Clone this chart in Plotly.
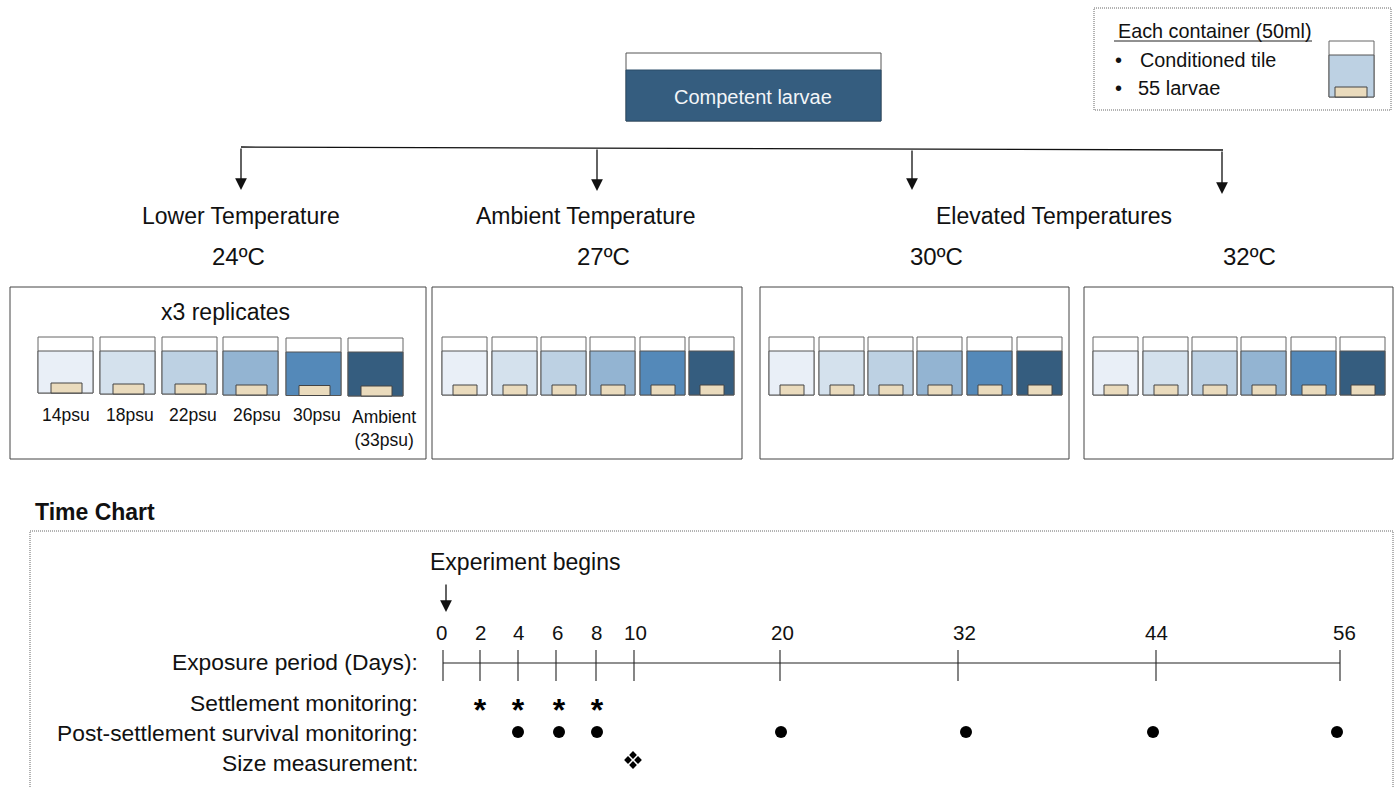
import plotly.graph_objects as go

FONT = "Liberation Sans"
INK = "#111111"

# ---- text and categories ----
salinity_labels = ["14psu", "18psu", "22psu", "26psu", "30psu", "Ambient<br>(33psu)"]
salinity_label_x = [66, 130, 193, 257, 317, 384]
water_colours = ["#E9EFF7", "#D4E1ED", "#BDD1E3", "#93B4D2", "#5489B9", "#355D7F"]
tile_colour = "#EADBBD"

# ---- containers: left edges per panel ----
panel_boxes = [(10, 287, 426, 459), (432, 287, 742, 459), (760, 287, 1069, 459), (1084, 287, 1393, 459)]
first_panel_lefts = [38, 100, 162, 223, 286, 348]
first_panel_tops = [337, 337, 337, 337, 338, 338]
first_panel_bottoms = [393, 394, 394, 395, 395.5, 396]
panel2_lefts = [442, 492, 541, 590, 640, 689]
panel3_lefts = [769, 819, 868, 917, 967, 1017]
panel4_lefts = [1093, 1143, 1192, 1241, 1291, 1340]

# ---- heading texts ----
headings = ["Lower Temperature", "Ambient Temperature", "Elevated Temperatures"]
heading_x = [241, 585, 1054]
temperatures = ["24ºC", "27ºC", "30ºC", "32ºC"]
temperature_x = [238, 603, 936, 1249]
arrow_x = [241, 597, 912, 1222]
arrow_start_y = [147, 148, 149, 150]
arrow_end_y = [190, 191, 190, 194]

# ---- time chart ----
day_labels = ["0", "2", "4", "6", "8", "10", "20", "32", "44", "56"]
day_label_x = [441, 480, 518, 557, 596, 635, 782, 964, 1156, 1344]
tick_x = [443, 480, 518, 556, 596, 634, 780, 958, 1156, 1340]
row_labels = ["Exposure period (Days):", "Settlement monitoring:",
              "Post-settlement survival monitoring:", "Size measurement:"]
row_label_y = [662, 703, 733, 763]
settlement_x = [480, 518, 559, 597]
survival_x = [518, 559, 597, 781, 966, 1153, 1337]
size_x = [633]

fig = go.Figure()
shapes = []


def rect(x0, y0, x1, y1, fill="rgba(0,0,0,0)", line="#555555", width=1.0, dash="solid"):
    shapes.append(dict(type="rect", xref="x", yref="y", x0=x0, y0=y0, x1=x1, y1=y1,
                       fillcolor=fill, line=dict(color=line, width=width, dash=dash), layer="below"))


def container(left, top, bottom, colour, w=55, air=14, tile_w=31, tile_h=10, tile_off=13):
    rect(left, top, left + w, bottom, "white", "#666666", 1)
    rect(left, top + air, left + w, bottom, colour, "#555555", 1)
    rect(left + tile_off, bottom - tile_h, left + tile_off + tile_w, bottom, tile_colour, "#444444", 1)


for box in panel_boxes:
    rect(*box, line="#444444", width=1)

for left, top, bottom, colour in zip(first_panel_lefts, first_panel_tops, first_panel_bottoms, water_colours):
    container(left, top, bottom, colour)
for lefts in (panel2_lefts, panel3_lefts, panel4_lefts):
    for left, colour in zip(lefts, water_colours):
        container(left, 337, 395, colour, w=45, tile_w=24, tile_off=11)

# competent larvae container
rect(626, 53, 881, 121, "white", "#555555", 1)
rect(626, 70, 881, 121, water_colours[5], "#2B4C68", 1)

# key box
rect(1094, 8, 1391, 110, line="#666666", width=1, dash="1px,1px")
container(1329, 41, 97, water_colours[2], w=45, tile_w=32, tile_off=6)
shapes.append(dict(type="line", xref="x", yref="y", x0=1114, x1=1312, y0=41, y1=41,
                   line=dict(color="#222222", width=1)))

# time box
rect(30, 531, 1393, 800, line="#666666", width=1, dash="1px,1px")

# branch line
shapes.append(dict(type="line", xref="x", yref="y", x0=241, x1=1223, y0=147, y1=150,
                   line=dict(color="#111111", width=1.3)))

# timeline
shapes.append(dict(type="line", xref="x", yref="y", x0=tick_x[0], x1=tick_x[-1], y0=663, y1=663,
                   line=dict(color="#222222", width=1.1)))
for tx in tick_x:
    shapes.append(dict(type="line", xref="x", yref="y", x0=tx, x1=tx, y0=650, y1=681,
                       line=dict(color="#222222", width=1.1)))

annotations = []


def text(x, y, s, size, anchor="center", color=INK, bold=False):
    annotations.append(dict(x=x, y=y, xref="x", yref="y", text=f"<b>{s}</b>" if bold else s,
                            showarrow=False, xanchor=anchor, yanchor="middle",
                            font=dict(family=FONT, size=size, color=color)))


def arrow(x, y0, y1):
    annotations.append(dict(x=x, y=y1, ax=x, ay=y0, xref="x", yref="y", axref="x", ayref="y", text="",
                            showarrow=True, arrowhead=2, arrowsize=1.8, arrowwidth=1.3, arrowcolor="#111111"))


for x, y0, y1 in zip(arrow_x, arrow_start_y, arrow_end_y):
    arrow(x, y0, y1)
arrow(446, 583, 612)

text(753, 97, "Competent larvae", 20, color="#F2F5F8")
for x, s in zip(heading_x, headings):
    text(x, 216, s, 23)
for x, s in zip(temperature_x, temperatures):
    text(x, 256, s, 24)
text(225, 312, "x3 replicates", 23)
for x, s in zip(salinity_label_x, salinity_labels):
    text(x, 415 if "<br>" not in s else 428, s, 17.5)

text(1215, 31, "Each container (50ml)", 19.8)
text(1113, 60, "•", 20, anchor="left")
text(1138, 60, "Conditioned tile", 19.8, anchor="left")
text(1113, 88, "•", 20, anchor="left")
text(1136, 88, "55 larvae", 20, anchor="left")

text(33, 512, "Time Chart", 23, anchor="left", bold=True)
text(525, 562, "Experiment begins", 23)
for x, s in zip(day_label_x, day_labels):
    text(x, 632, s, 20.5)
for y, s in zip(row_label_y, row_labels):
    text(420, y, s, 22.8, anchor="right")

# monitoring markers
fig.add_trace(go.Scatter(x=settlement_x, y=[713] * len(settlement_x), mode="text", name="Settlement",
                         text=["<b>*</b>"] * len(settlement_x), textposition="middle center",
                         textfont=dict(family=FONT, size=32, color="black")))
fig.add_trace(go.Scatter(x=survival_x, y=[732] * len(survival_x), mode="markers", name="Survival",
                         marker=dict(symbol="circle", size=12, color="black")))
for dx, dy in [(0, -5), (0, 5), (-5, 0), (5, 0)]:
    fig.add_trace(go.Scatter(x=[v + dx for v in size_x], y=[760 + dy], mode="markers", name="Size",
                             marker=dict(symbol="diamond", size=6, color="black")))

fig.update_layout(
    width=1396, height=788, autosize=False, margin=dict(l=0, r=0, t=0, b=0),
    paper_bgcolor="white", plot_bgcolor="white", showlegend=False,
    xaxis=dict(range=[0, 1396], visible=False, fixedrange=True),
    yaxis=dict(range=[788, 0], visible=False, fixedrange=True),
    shapes=shapes, annotations=annotations,
)
fig.write_html("out.html", config={"displayModeBar": False},
               post_script="document.body.style.margin='0';document.body.style.overflow='hidden';")
